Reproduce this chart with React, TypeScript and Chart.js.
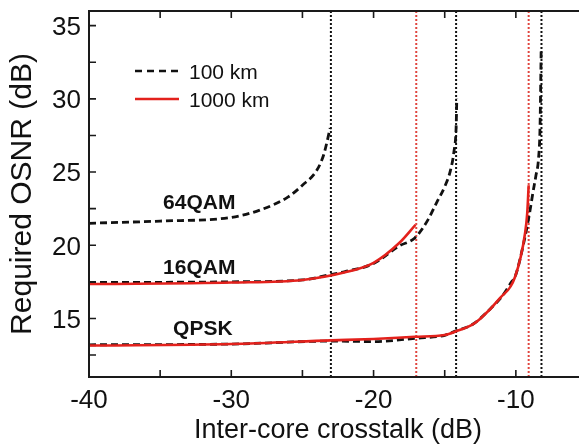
import React, { useEffect, useRef } from "react";
import { Chart, registerables } from "chart.js";

Chart.register(...registerables);

// ---- data ----
const xTitle = "Inter-core crosstalk (dB)";
const yTitle = "Required OSNR (dB)";
const seriesNames = ["100 km", "1000 km"];
const formatNames = ["64QAM", "16QAM", "QPSK"];

// 64QAM, 100 km (dashed black)
const qam64_100X = [-40, -35, -30, -28, -26, -25, -24, -23.5, -23.05];
const qam64_100Y = [21.5, 21.65, 21.9, 22.4, 23.3, 24.1, 25.1, 26.2, 28.0];

// 16QAM, 100 km (dashed black)
const qam16_100X = [-40, -30, -25, -23, -22, -20, -18.2, -17.1, -16.2, -15.55, -15.0, -14.6, -14.35, -14.2, -14.15];
const qam16_100Y = [17.45, 17.5, 17.63, 18.0, 18.2, 18.75, 19.95, 20.5, 21.7, 22.95, 24.0, 25.1, 26.4, 28.0, 30.0];

// 16QAM, 1000 km (solid red)
const qam16_1000X = [-40, -30, -25, -22, -20, -18.2, -17.05];
const qam16_1000Y = [17.35, 17.45, 17.63, 18.15, 18.8, 20.15, 21.4];

// QPSK, 100 km (dashed black)
const qpsk_100X = [-40, -30, -23, -20, -17, -15, -14.2, -13, -11.8, -10.9, -10.3, -10.06, -9.35, -9.0, -8.8, -8.6, -8.4, -8.3, -8.22];
const qpsk_100Y = [13.2, 13.25, 13.45, 13.42, 13.65, 13.85, 14.15, 14.62, 15.65, 16.6, 17.5, 17.83, 20.6, 22.4, 23.6, 24.7, 26.0, 28.1, 33.5];

// QPSK, 1000 km (solid red)
const qpsk_1000X = [-40, -30, -23, -20, -17.1, -15, -14.2, -13, -12.5, -11.1, -10.06, -9.35, -9.2, -9.1];
const qpsk_1000Y = [13.15, 13.25, 13.5, 13.6, 13.75, 13.87, 14.12, 14.62, 14.98, 16.4, 17.83, 20.84, 22.2, 24.1];

// crosstalk limits (vertical dotted lines)
const blackLimits = [-23, -14.2, -8.2];
const redLimits = [-17, -9.1];

const xTicks = [-40, -30, -20, -10];
const yTicks = [15, 20, 25, 30, 35];

const FONT = "'Liberation Sans', Arial, Helvetica, sans-serif";
const BLACK = "#111111";
const RED = "#e3211c";
const RED_DOT = "#e0453f";

const pts = (xs: number[], ys: number[]) => xs.map((x, i) => ({ x, y: ys[i] }));

const framePlugin = {
  id: "frame",
  afterDatasetsDraw(chart: any, _args: any, opts: any) {
    const { ctx, chartArea: a, scales } = chart;
    const xs = scales.x;
    const ys = scales.y;
    ctx.save();
    // frame
    ctx.strokeStyle = "#1a1a1a";
    ctx.lineWidth = 2;
    ctx.strokeRect(a.left, a.top, a.right - a.left, a.bottom - a.top);
    // inward ticks
    ctx.lineWidth = 1.6;
    const tl = 7;
    ctx.beginPath();
    for (let v = -35; v <= -10; v += 5) {
      const px = xs.getPixelForValue(v);
      ctx.moveTo(px, a.bottom);
      ctx.lineTo(px, a.bottom - tl);
      ctx.moveTo(px, a.top);
      ctx.lineTo(px, a.top + tl);
    }
    for (let v = 12.5; v <= 35; v += 2.5) {
      const py = ys.getPixelForValue(v);
      ctx.moveTo(a.left, py);
      ctx.lineTo(a.left + tl, py);
      ctx.moveTo(a.right, py);
      ctx.lineTo(a.right - tl, py);
    }
    ctx.stroke();

    // y tick labels
    ctx.fillStyle = "#111";
    ctx.font = `26px ${FONT}`;
    ctx.textAlign = "right";
    ctx.textBaseline = "alphabetic";
    yTicks.forEach((v) => {
      ctx.fillText(String(v), a.left - 8, ys.getPixelForValue(v) + 9.3);
    });

    // legend
    const lg = opts.legend;
    ctx.lineWidth = 2.5;
    ctx.strokeStyle = BLACK;
    ctx.setLineDash([7, 5]);
    ctx.beginPath();
    ctx.moveTo(lg.x0, lg.y0);
    ctx.lineTo(lg.x1, lg.y0);
    ctx.stroke();
    ctx.setLineDash([]);
    ctx.strokeStyle = RED;
    ctx.beginPath();
    ctx.moveTo(lg.x0, lg.y1);
    ctx.lineTo(lg.x1, lg.y1);
    ctx.stroke();
    ctx.font = `21px ${FONT}`;
    ctx.textAlign = "left";
    ctx.fillText(seriesNames[0], lg.tx, lg.y0 + 7.5);
    ctx.fillText(seriesNames[1], lg.tx, lg.y1 + 7.5);

    // format labels
    ctx.font = `bold 21px ${FONT}`;
    ctx.textAlign = "center";
    opts.labels.forEach((l: any, i: number) => {
      const px = xs.getPixelForValue(l.x);
      const py = ys.getPixelForValue(l.y);
      ctx.fillText(formatNames[i], px, py + 7.5);
    });
    ctx.restore();
  },
};

export default function App() {
  const ref = useRef<HTMLCanvasElement | null>(null);
  useEffect(() => {
    if (!ref.current) return;
    const vline = (x: number, color: string) => ({
      data: [
        { x, y: 11 },
        { x, y: 36 },
      ],
      borderColor: color,
      borderWidth: 2,
      borderDash: [2, 2],
      pointRadius: 0,
      order: 5,
    });
    const dashed = (xs: number[], ys: number[]) => ({
      data: pts(xs, ys),
      borderColor: BLACK,
      borderWidth: 2.8,
      borderDash: [7, 4],
      pointRadius: 0,
      cubicInterpolationMode: "monotone" as const,
      order: 2,
    });
    const solid = (xs: number[], ys: number[]) => ({
      data: pts(xs, ys),
      borderColor: RED,
      borderWidth: 2.6,
      pointRadius: 0,
      cubicInterpolationMode: "monotone" as const,
      order: 1,
    });
    const chart = new Chart(ref.current, {
      type: "line",
      data: {
        datasets: [
          ...blackLimits.map((x) => vline(x, "#111")),
          ...redLimits.map((x) => vline(x, RED_DOT)),
          dashed(qam64_100X, qam64_100Y),
          dashed(qam16_100X, qam16_100Y),
          dashed(qpsk_100X, qpsk_100Y),
          solid(qam16_1000X, qam16_1000Y),
          solid(qpsk_1000X, qpsk_1000Y),
        ] as any,
      },
      options: {
        animation: false,
        responsive: false,
        events: [],
        layout: { padding: { top: 11, right: 3, left: 0, bottom: 0 } },
        plugins: {
          legend: { display: false },
          tooltip: { enabled: false },
          frame: {
            legend: { x0: 135, x1: 179, y0: 71, y1: 99, tx: 189 },
            labels: [
              { x: -32.25, y: 23.0 },
              { x: -32.25, y: 18.57 },
              { x: -32.0, y: 14.35 },
            ],
          },
        } as any,
        scales: {
          x: {
            type: "linear",
            min: -40,
            max: -5,
            grid: { display: false },
            border: { display: false },
            afterFit: (s: any) => {
              s.height = 70;
            },
            ticks: {
              stepSize: 5,
              padding: 0,
              color: "#111",
              font: { family: FONT, size: 26 },
              maxRotation: 0,
              autoSkip: false,
              callback: (v: any) => (xTicks.includes(Number(v)) ? String(v) : ""),
            },
            title: {
              display: true,
              text: xTitle,
              color: "#111",
              font: { family: FONT, size: 27 },
              padding: { top: 0, bottom: 0 },
            },
          },
          y: {
            type: "linear",
            min: 11,
            max: 36,
            grid: { display: false },
            border: { display: false },
            afterFit: (s: any) => {
              s.width = 89;
            },
            ticks: { display: false, stepSize: 2.5 },
            title: {
              display: true,
              text: yTitle,
              color: "#111",
              font: { family: FONT, size: 30 },
              padding: { top: 5, bottom: 0 },
            },
          },
        },
      },
      plugins: [framePlugin as any],
    });
    return () => chart.destroy();
  }, []);
  return (
    <div
      style={{
        position: "absolute",
        left: 0,
        top: 0,
        width: 579,
        height: 447,
        overflow: "hidden",
        background: "#fff",
      }}
    >
      <canvas ref={ref} width={590} height={447} style={{ width: 590, height: 447, display: "block" }} />
    </div>
  );
}
